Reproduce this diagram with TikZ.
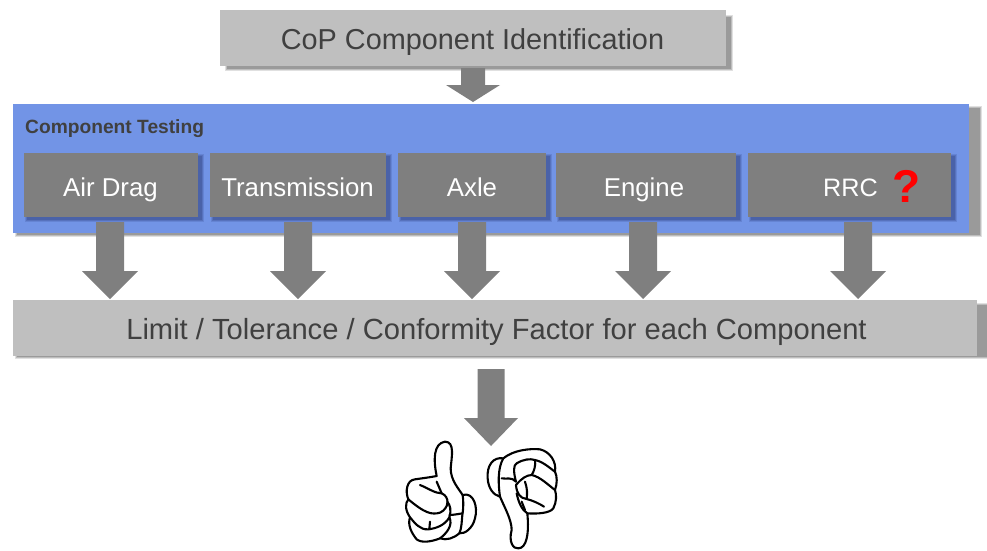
\documentclass[tikz,border=0pt]{standalone}
\usepackage{fontspec}
\setmainfont{Liberation Sans}
\definecolor{lightbox}{HTML}{BFBFBF}
\definecolor{darkbox}{HTML}{7F7F7F}
\definecolor{bluepanel}{HTML}{7294E6}
\definecolor{blueshade}{HTML}{4A62A8}
\definecolor{greyshade}{HTML}{9A9A9A}
\definecolor{inktext}{HTML}{404040}
\tikzset{
  boxnode/.style={inner sep=0pt,anchor=north west},
  widetext/.style={inner sep=0pt,anchor=base,text=inktext,font=\fontsize{29.15}{32}\selectfont},
  comptext/.style={inner sep=0pt,anchor=base,text=white,font=\fontsize{25.8}{28}\selectfont},
  blockarrow/.style={fill=darkbox,draw=none},
  handline/.style={draw=black,line width=2.1pt,line cap=round,line join=round},
  handfill/.style={handline,fill=white},
}
% soft shadow: x1,y1,x2,y2,colour
\newcommand{\softshade}[5]{%
  \fill[#5,opacity=.3] (#1-2,#2-2) rectangle (#3+2,#4+2);
  \fill[#5,opacity=.5] (#1-1,#2-1) rectangle (#3+1,#4+1);
  \fill[#5] (#1,#2) rectangle (#3,#4);}
% start coordinate, tip coordinate, shaft half width, head half width
\newcommand{\blockarrow}[4]{%
  \fill[blockarrow] ([xshift=-#3pt]#1) -- ([xshift=#3pt]#1)
    -- ([xshift=#3pt,yshift=28pt]#2) -- ([xshift=#4pt,yshift=28pt]#2)
    -- (#2) -- ([xshift=-#4pt,yshift=28pt]#2) -- ([xshift=-#3pt,yshift=28pt]#2) -- cycle;}
\begin{document}
\begin{tikzpicture}[x=1pt,y=-1pt]
\useasboundingbox (0,0) rectangle (987,550);
% shadows
\softshade{227}{17}{731}{69}{greyshade}
\softshade{17}{108}{980}{235}{greyshade}
\softshade{17}{305}{989}{357}{greyshade}
% panel
\node[boxnode,fill=bluepanel,minimum width=956pt,minimum height=129pt] (panel) at (13,104) {};
\node[anchor=base west,inner sep=0pt,text=inktext,font=\bfseries\fontsize{19.2}{22}\selectfont] (paneltitle) at (25,133) {Component Testing};
% component shadows
\foreach \xa/\xb in {24/198,210/386,398/546,556/736,748/951}
  \softshade{\xa+3}{156}{\xb+4}{220}{blueshade}
% boxes
\node[boxnode,fill=lightbox,minimum width=506pt,minimum height=56pt] (cop) at (220,10) {};
\node[widetext,font=\fontsize{28.85}{32}\selectfont] (coptext) at (472.5,49.5) {CoP Component Identification};
\node[boxnode,fill=darkbox,minimum width=174pt,minimum height=64pt] (air) at (24,153) {};
\node[boxnode,fill=darkbox,minimum width=176pt,minimum height=64pt] (trans) at (210,153) {};
\node[boxnode,fill=darkbox,minimum width=148pt,minimum height=64pt] (axle) at (398,153) {};
\node[boxnode,fill=darkbox,minimum width=180pt,minimum height=64pt] (engine) at (556,153) {};
\node[boxnode,fill=darkbox,minimum width=203pt,minimum height=64pt] (rrc) at (748,153) {};
\node[comptext] (airtext) at (110.5,196) {Air Drag};
\node[comptext] (transtext) at (297.5,196) {Transmission};
\node[comptext] (axletext) at (472,196) {Axle};
\node[comptext] (enginetext) at (644,196) {Engine};
\node[comptext,font=\fontsize{25.2}{28}\selectfont] (rrctext) at (850.5,196) {RRC};
\node[anchor=base,inner sep=0pt,text=red,font=\bfseries\fontsize{46}{48}\selectfont] (question) at (906.5,202.5) {?};
\node[boxnode,fill=lightbox,minimum width=964pt,minimum height=56pt] (limit) at (13,300) {};
\node[widetext] (limittext) at (496.5,339.5) {Limit / Tolerance / Conformity Factor for each Component};
% arrow ends
\coordinate (a0s) at (473,68);  \coordinate (a0t) at (473,102);
\coordinate (a1s) at (110,222); \coordinate (a1t) at (110,299);
\coordinate (a2s) at (298,222); \coordinate (a2t) at (298,299);
\coordinate (a3s) at (472,222); \coordinate (a3t) at (472,299);
\coordinate (a4s) at (643,222); \coordinate (a4t) at (643,299);
\coordinate (a5s) at (858,222); \coordinate (a5t) at (858,299);
\coordinate (a6s) at (491,369); \coordinate (a6t) at (491,446);
\fill[blockarrow] ([xshift=-12pt]a0s) -- ([xshift=12pt]a0s) -- ([xshift=12pt,yshift=17pt]a0t) -- ([xshift=27pt,yshift=17pt]a0t) -- (a0t) -- ([xshift=-27pt,yshift=17pt]a0t) -- ([xshift=-12pt,yshift=17pt]a0t) -- cycle;
\blockarrow{a1s}{a1t}{14}{28}
\blockarrow{a2s}{a2t}{14}{28}
\blockarrow{a3s}{a3t}{14}{28}
\blockarrow{a4s}{a4t}{14}{28}
\blockarrow{a5s}{a5t}{14}{28}
\blockarrow{a6s}{a6t}{13.5}{27}
% hands
\begin{scope}[shift={(390,430)},x=0.3333pt,y=-0.3333pt]
% thumb up: outline
\draw[handfill] (140,138) .. controls (130,90) and (130,40) .. (165,35)
  .. controls (195,35) and (185,80) .. (182,115)
  .. controls (182,150) and (205,175) .. (218,195)
  .. controls (250,185) and (265,230) .. (255,265)
  .. controls (248,295) and (225,312) .. (208,310)
  .. controls (190,325) and (170,332) .. (150,325)
  .. controls (125,335) and (95,340) .. (80,328)
  .. controls (65,310) and (52,285) .. (60,262)
  .. controls (45,240) and (45,220) .. (55,208)
  .. controls (45,185) and (50,150) .. (75,148)
  .. controls (95,145) and (120,142) .. (140,138) -- cycle;
\draw[handline] (90,165) .. controls (115,175) and (135,190) .. (155,190)
  .. controls (180,200) and (178,235) .. (150,248)
  .. controls (125,255) and (105,250) .. (55,208);
\draw[handline] (60,262) .. controls (75,280) and (90,300) .. (115,298)
  .. controls (140,295) and (165,285) .. (178,262)
  .. controls (185,240) and (180,225) .. (172,215);
\draw[handline] (140,155) -- (155,190);
\draw[handline] (178,255) .. controls (190,255) and (205,252) .. (217,250);
\draw[handline] (218,195) .. controls (222,225) and (218,250) .. (217,255)
  .. controls (215,275) and (215,295) .. (208,310);
\draw[handline] (178,262) .. controls (190,285) and (170,310) .. (150,325);
\draw[handline] (120,275) -- (118,297);
% thumb down: outline
\draw[handfill] (340,85) .. controls (310,80) and (290,105) .. (293,145)
  .. controls (295,175) and (310,195) .. (330,200)
  .. controls (345,235) and (365,270) .. (365,300)
  .. controls (355,335) and (370,358) .. (385,355)
  .. controls (410,355) and (418,310) .. (412,250)
  .. controls (440,252) and (480,250) .. (490,235)
  .. controls (500,215) and (500,195) .. (495,180)
  .. controls (502,160) and (502,140) .. (495,125)
  .. controls (500,95) and (480,65) .. (450,58)
  .. controls (420,55) and (370,60) .. (340,85) -- cycle;
\draw[handline] (340,85) .. controls (322,115) and (325,165) .. (330,200);
\draw[handline] (335,145) .. controls (350,148) and (365,140) .. (378,155)
  .. controls (370,125) and (370,105) .. (380,100)
  .. controls (400,88) and (420,85) .. (435,90)
  .. controls (460,95) and (480,115) .. (495,125);
\draw[handline] (378,165) .. controls (395,145) and (410,135) .. (425,135)
  .. controls (450,140) and (475,165) .. (495,180);
\draw[handline] (378,165) .. controls (380,190) and (390,205) .. (410,207)
  .. controls (430,212) and (450,222) .. (462,230);
\draw[handline] (405,155) .. controls (412,175) and (412,190) .. (410,207);
\draw[handline] (435,90) .. controls (438,105) and (432,125) .. (425,135);
\draw[handline] (380,190) .. controls (385,215) and (395,240) .. (412,250);
\draw[handline] (395,215) -- (405,240);
\end{scope}
\end{tikzpicture}
\end{document}
